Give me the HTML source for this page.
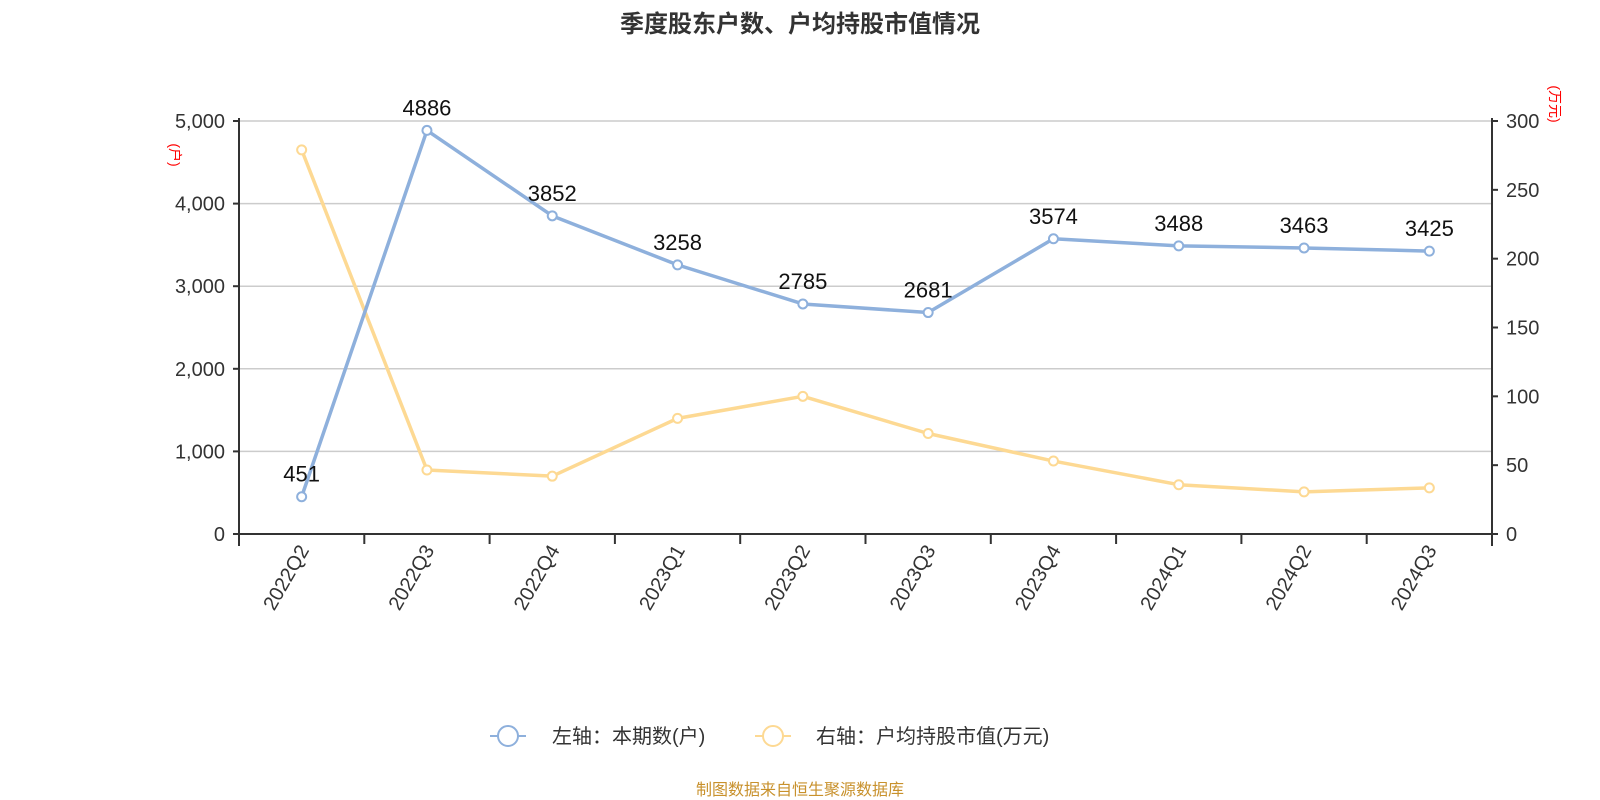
<!DOCTYPE html>
<html><head><meta charset="utf-8"><style>
html,body{margin:0;padding:0;background:#fff;}
svg{display:block;font-family:"Liberation Sans","Noto Sans CJK SC",sans-serif;}
</style></head><body>
<svg id="chart" width="1600" height="800" xmlns="http://www.w3.org/2000/svg">
<text x="800" y="32" text-anchor="middle" font-size="24" font-weight="bold" fill="#333">季度股东户数、户均持股市值情况</text>
<g id="grid"></g><g id="axes"></g><g id="series"></g>
<text transform="translate(170,155) rotate(90)" text-anchor="middle" font-size="14" fill="red">(户)</text>
<text transform="translate(1550,104) rotate(90)" text-anchor="middle" font-size="14" fill="red">(万元)</text>
<g>
<g>
<line x1="490" y1="736" x2="526" y2="736" stroke="#8eb0dc" stroke-width="2"/>
<circle cx="508" cy="736" r="10" fill="#fff" stroke="#8eb0dc" stroke-width="2"/>
<text x="552" y="743" font-size="20" fill="#333">左轴：本期数(户)</text></g>
<g>
<line x1="755" y1="736" x2="791" y2="736" stroke="#fdd993" stroke-width="2"/>
<circle cx="773" cy="736" r="10" fill="#fff" stroke="#fdd993" stroke-width="2"/>
<text x="816" y="743" font-size="20" fill="#333">右轴：户均持股市值(万元)</text></g>
</g>
<text x="800" y="795" text-anchor="middle" font-size="16" fill="#c8912c">制图数据来自恒生聚源数据库</text>
</svg>
<script>
const categories=["2022Q2","2022Q3","2022Q4","2023Q1","2023Q2","2023Q3","2023Q4","2024Q1","2024Q2","2024Q3"];
const holders=[451,4886,3852,3258,2785,2681,3574,3488,3463,3425];
const avgValue=[279,46.5,42,84,100,73,53,35.8,30.6,33.5];
const leftTicks=[0,1000,2000,3000,4000,5000];
const leftTickLabels=["0","1,000","2,000","3,000","4,000","5,000"];
const rightTicks=[0,50,100,150,200,250,300];
const NS="http://www.w3.org/2000/svg";
const X0=239,X1=1492,Y0=534,Y1=121;
const step=(X1-X0)/categories.length;
const xs=i=>X0+step*(i+0.5);
const yL=v=>Y0-(v/5000)*(Y0-Y1);
const yR=v=>Y0-(v/300)*(Y0-Y1);
function mk(parent,tag,attrs,text){const e=document.createElementNS(NS,tag);for(const k in attrs)e.setAttribute(k,attrs[k]);if(text!==undefined)e.textContent=text;parent.appendChild(e);return e;}
const grid=document.getElementById('grid'),axes=document.getElementById('axes'),series=document.getElementById('series');
leftTicks.forEach((t,i)=>{
  const y=yL(t);
  if(t>0){const g=mk(grid,'line',{x1:X0,x2:X1,y1:y,y2:y,stroke:'#ccc','stroke-width':1.5});
  
  }
  const tk=mk(axes,'line',{x1:X0-6,x2:X0,y1:y,y2:y,stroke:'#333','stroke-width':2});
  
  
  const tl=mk(axes,'text',{x:X0-14,y:y+7,'text-anchor':'end','font-size':20,fill:'#333'},leftTickLabels[i]);
  
  
});
rightTicks.forEach(t=>{
  const y=yR(t);
  const tk=mk(axes,'line',{x1:X1,x2:X1+6,y1:y,y2:y,stroke:'#333','stroke-width':2});
  
  
  const tl=mk(axes,'text',{x:X1+14,y:y+7,'font-size':20,fill:'#333'},String(t));
  
  
});
const la=mk(axes,'line',{x1:X0,x2:X0,y1:Y1-3,y2:Y0+12,stroke:'#333','stroke-width':2});


const ra=mk(axes,'line',{x1:X1,x2:X1,y1:Y1-3,y2:Y0+12,stroke:'#333','stroke-width':2});


const xa=mk(axes,'line',{x1:X0,x2:X1,y1:Y0,y2:Y0,stroke:'#333','stroke-width':2});


for(let i=0;i<=categories.length;i++){
  const x=X0+step*i;
  const tk=mk(axes,'line',{x1:x,x2:x,y1:Y0,y2:Y0+10,stroke:'#333','stroke-width':2});
  
  
}
categories.forEach((c,i)=>{
  const x=xs(i);
  const t=mk(axes,'text',{transform:`translate(${x+8},${Y0+16}) rotate(-60)`,'text-anchor':'end','font-size':20,fill:'#333'},c);
  
  
});
function drawLine(vals,yf,color,name,labels){
  const pts=vals.map((v,i)=>xs(i)+','+yf(v)).join(' ');
  const pl=mk(series,'polyline',{points:pts,fill:'none',stroke:color,'stroke-width':3.5,'stroke-linejoin':'round'});
  
  
  vals.forEach((v,i)=>{
    const c=mk(series,'circle',{cx:xs(i),cy:yf(v),r:4.5,fill:'#fff',stroke:color,'stroke-width':2});
    
    
    if(labels){
      const t=mk(series,'text',{x:xs(i),y:yf(v)-15,'text-anchor':'middle','font-size':22,fill:'#111'},String(v));
      
      
    }
  });
}
drawLine(avgValue,yR,'#fdd993','avg-value',false);
drawLine(holders,yL,'#8eb0dc','holders',true);
</script>
</body></html>
